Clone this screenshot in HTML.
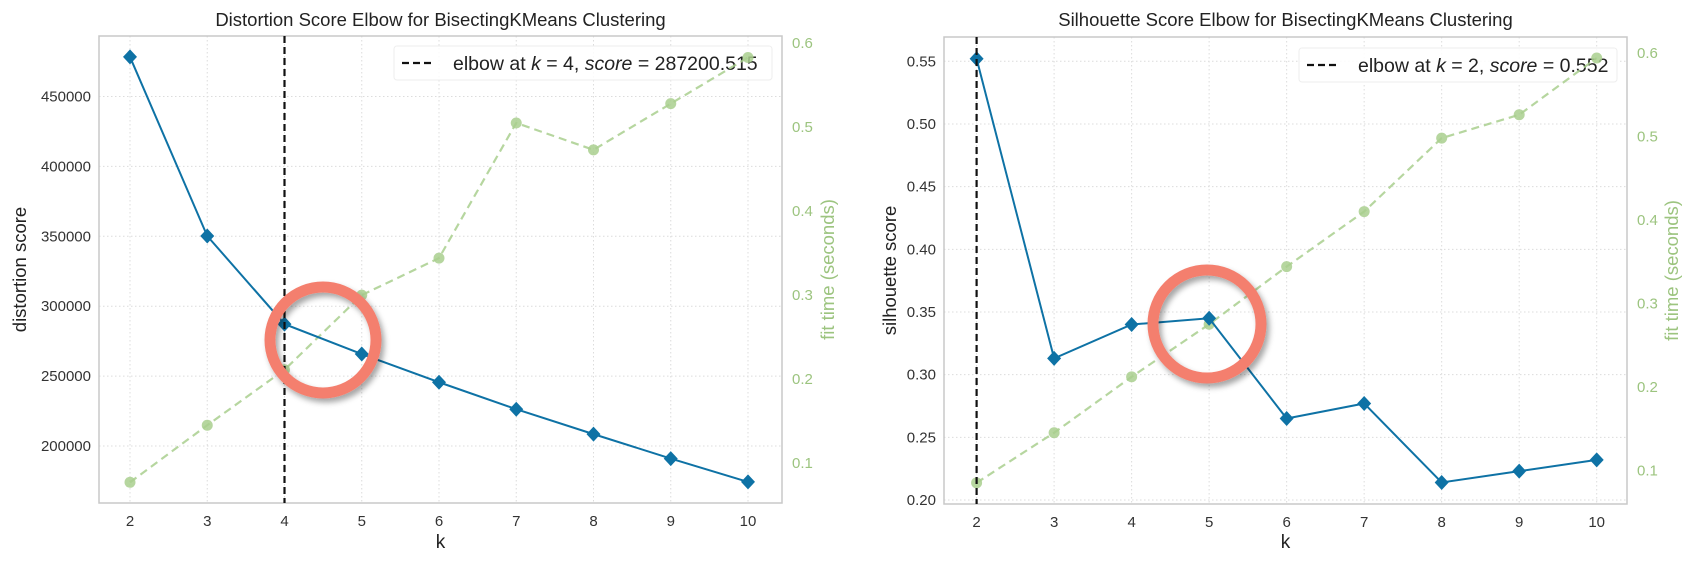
<!DOCTYPE html>
<html><head><meta charset="utf-8">
<style>
html,body{margin:0;padding:0;background:#fff;}
svg{display:block;font-family:"Liberation Sans",sans-serif;}
</style></head>
<body>
<svg id="c" width="1706" height="565" viewBox="0 0 1706 565"></svg>
<script>
const ks = [2,3,4,5,6,7,8,9,10];
const distortion = [478300,350200,287200,265800,245600,226300,208500,191000,174300];
const distFit = [0.077,0.145,0.211,0.300,0.344,0.505,0.473,0.528,0.583];
const silhouette = [0.552,0.313,0.340,0.345,0.265,0.277,0.214,0.223,0.232];
const silFit = [0.085,0.145,0.212,0.275,0.344,0.410,0.498,0.526,0.594];
const distTicks = [200000,250000,300000,350000,400000,450000];
const silTicks = [0.20,0.25,0.30,0.35,0.40,0.45,0.50,0.55];
const fitTicks = [0.1,0.2,0.3,0.4,0.5,0.6];
const xTicks = [2,3,4,5,6,7,8,9,10];

const NS='http://www.w3.org/2000/svg';
const svg=document.getElementById('c');
function mk(tag,attrs,parent,text){const e=document.createElementNS(NS,tag);for(const k in attrs)e.setAttribute(k,attrs[k]);if(text!==undefined)e.textContent=text;(parent||svg).appendChild(e);return e;}

const defs=mk('defs',{});
const f=mk('filter',{id:'sh',x:'-30%',y:'-30%',width:'160%',height:'160%'},defs);
mk('feDropShadow',{dx:'3',dy:'4',stdDeviation:'3','flood-color':'#000','flood-opacity':'0.35'},f);

function chart(cfg){
  const g=mk('g',{});
  
  
  const {L,R,T,B}=cfg;
  const xs=k=>cfg.x2+(k-2)*(cfg.x10-cfg.x2)/8;
  const yl=v=>cfg.ya1+(v-cfg.va1)*(cfg.ya2-cfg.ya1)/(cfg.va2-cfg.va1);
  const yr=v=>cfg.yb1+(v-cfg.vb1)*(cfg.yb2-cfg.yb1)/(cfg.vb2-cfg.vb1);
  mk('rect',{x:L,y:T,width:R-L,height:B-T,fill:'#fff'},g);
  xTicks.forEach(k=>{const l=mk('line',{x1:xs(k),x2:xs(k),y1:T,y2:B,stroke:'#dcdcdc','stroke-width':1,'stroke-dasharray':'1.5,2.5'},g);
    const t=mk('text',{x:xs(k),y:B+23,'text-anchor':'middle','font-size':15,fill:'#333'},g,String(k));});
  cfg.lt.forEach(v=>{const l=mk('line',{x1:L,x2:R,y1:yl(v),y2:yl(v),stroke:'#dcdcdc','stroke-width':1,'stroke-dasharray':'1.5,2.5'},g);
    const t=mk('text',{x:L-8,y:yl(v)+5,'text-anchor':'end','font-size':15,fill:'#333'},g,cfg.fmt(v));});
  fitTicks.forEach(v=>{const t=mk('text',{x:R+10,y:yr(v)+5,'font-size':15,fill:'#9cc47f'},g,v.toFixed(1));});
  const fr=mk('rect',{x:L,y:T,width:R-L,height:B-T,fill:'none',stroke:'#c8c8c8','stroke-width':1.5},g);
  
  const lg=mk('g',{},g);
  mk('rect',{x:cfg.lx,y:cfg.ly,width:cfg.lw,height:34,rx:3,fill:'#fff',stroke:'#eeeeee','fill-opacity':0.85},lg);
  mk('line',{x1:cfg.lx+8,x2:cfg.lx+40,y1:cfg.ly+17,y2:cfg.ly+17,stroke:'#111','stroke-width':2.2,'stroke-dasharray':'7,4'},lg);
  const lt=mk('text',{x:cfg.lx+59,y:cfg.ly+24,'font-size':19.5,fill:'#222'},lg);
  lt.innerHTML=`elbow at <tspan font-style="italic">k</tspan> = ${cfg.elbow}, <tspan font-style="italic">score</tspan> = ${cfg.elbowText}`;
  const gp=mk('polyline',{points:ks.map((k,i)=>xs(k)+','+yr(cfg.fit[i])).join(' '),fill:'none',stroke:'#a9cf8e','stroke-width':2.2,'stroke-dasharray':'8,5',opacity:0.85},g);
  
  ks.forEach((k,i)=>{const c=mk('circle',{cx:xs(k),cy:yr(cfg.fit[i]),r:5.5,fill:'#a9cf8e',opacity:0.85},g);});
  const bp=mk('polyline',{points:ks.map((k,i)=>xs(k)+','+yl(cfg.score[i])).join(' '),fill:'none',stroke:'#0e72a5','stroke-width':2},g);
  
  ks.forEach((k,i)=>{const x=xs(k),y=yl(cfg.score[i]);const d=mk('polygon',{points:`${x},${y-7.5} ${x+7},${y} ${x},${y+7.5} ${x-7},${y}`,fill:'#0e72a5'},g);});
  const el=mk('line',{x1:xs(cfg.elbow),x2:xs(cfg.elbow),y1:T,y2:B,stroke:'#111','stroke-width':2.2,'stroke-dasharray':'7,4'},g);
  
  const ci=mk('ellipse',{cx:cfg.cx,cy:cfg.cy,rx:cfg.cr,ry:cfg.cr,fill:'none',stroke:'#f47f6e','stroke-width':11,filter:'url(#sh)'},g);
  
  const tt=mk('text',{x:(L+R)/2,y:26,'text-anchor':'middle','font-size':18.5,fill:'#222'},g,cfg.title);
  const xl=mk('text',{x:(L+R)/2,y:548,'text-anchor':'middle','font-size':19,fill:'#222'},g,'k');
  const ylb=mk('text',{x:0,y:0,'text-anchor':'middle','font-size':18.5,fill:'#222',transform:`translate(${cfg.ylx},${(T+B)/2}) rotate(-90)`},g,cfg.ylabel);
  const yr2=mk('text',{x:0,y:0,'text-anchor':'middle','font-size':18.5,fill:'#9cc47f',transform:`translate(${cfg.yrx},${(T+B)/2}) rotate(-90)`},g,'fit time (seconds)');
}

chart({name:'distortion-chart',L:99,R:782,T:36,B:503,x2:130,x10:748,
  va1:200000,ya1:446,va2:450000,ya2:96.5,vb1:0.1,yb1:463,vb2:0.6,yb2:43.2,
  lt:distTicks,fmt:v=>String(v),fit:distFit,score:distortion,elbow:4,elbowText:'287200.515',
  lx:394,ly:46,lw:378,cx:323,cy:340,cr:53,title:'Distortion Score Elbow for BisectingKMeans Clustering',
  ylabel:'distortion score',ylx:26,yrx:834});
chart({name:'silhouette-chart',L:944,R:1627,T:37,B:504,x2:976.6,x10:1596.7,
  va1:0.20,ya1:500,va2:0.55,ya2:61.3,vb1:0.1,yb1:470.3,vb2:0.6,yb2:53,
  lt:silTicks,fmt:v=>v.toFixed(2),fit:silFit,score:silhouette,elbow:2,elbowText:'0.552',
  lx:1299,ly:48,lw:318,cx:1207,cy:324,cr:54,title:'Silhouette Score Elbow for BisectingKMeans Clustering',
  ylabel:'silhouette score',ylx:896,yrx:1678});
</script>
</body></html>
